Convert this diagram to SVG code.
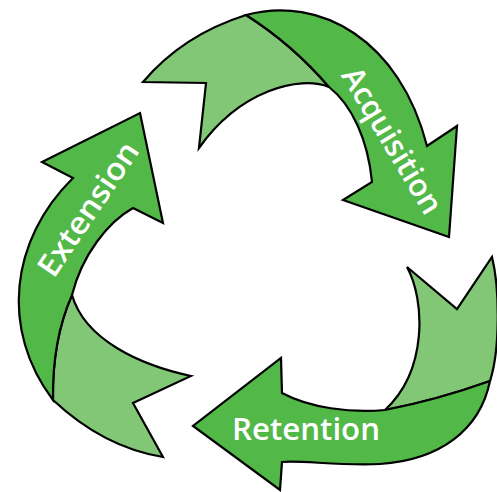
<svg xmlns="http://www.w3.org/2000/svg" width="497" height="492" viewBox="0 0 497 492">
<style>
.dark{fill:#52b848;stroke:#000;stroke-width:2.2;stroke-linejoin:miter}
.light{fill:#81c775;stroke:#000;stroke-width:2.2;stroke-linejoin:miter}
.lbl{font-family:"Open Sans","Liberation Sans",sans-serif;font-weight:600;font-size:31px;fill:#fff}
</style>
<rect width="497" height="492" fill="#fff"/>
<g id="acquisition">
<path class="light" d="M143,82 C170,50 205,28 246,15 Q292,44 329,87 C300,75 240,90 199,148 L206,83 Z"/>
<path class="dark" d="M246,15 C320,-5 400,40 427,146 L457,126 L449,237 L343,200 L372,182 C368,140 352,105 329,87 Q292,44 246,15 Z"/>
<text class="lbl" text-anchor="middle" textLength="165" lengthAdjust="spacingAndGlyphs" transform="translate(383,146) rotate(59)">Acquisition</text>
</g>
<g id="retention">
<path class="light" d="M407,267 L457,309 L492,257 C500,290 500,350 490,381 Q437,400 385,410 C428,370 425,300 407,267 Z"/>
<path class="dark" d="M490,381 C480,430 440,460 380,464 C340,466 300,460 282,462 L280,490 L193,426 L281,358 L282,393 C310,408 350,413 385,410 Q437,400 490,381 Z"/>
<text class="lbl" x="232" y="440" textLength="148" lengthAdjust="spacingAndGlyphs">Retention</text>
</g>
<g id="extension">
<path class="light" d="M72,295 C85,340 140,365 191,376 L133,403 L163,457 C120,450 85,430 53,400 Q52,340 72,295 Z"/>
<path class="dark" d="M140,113 L163,223 L133,208 C108,222 82,255 72,295 Q52,340 53,400 C0,330 10,240 73,178 L42,162 Z"/>
<text class="lbl" text-anchor="middle" textLength="155" lengthAdjust="spacingAndGlyphs" transform="translate(97,215) rotate(-56)">Extension</text>
</g>
<g id="connectors"></g>
</svg>
